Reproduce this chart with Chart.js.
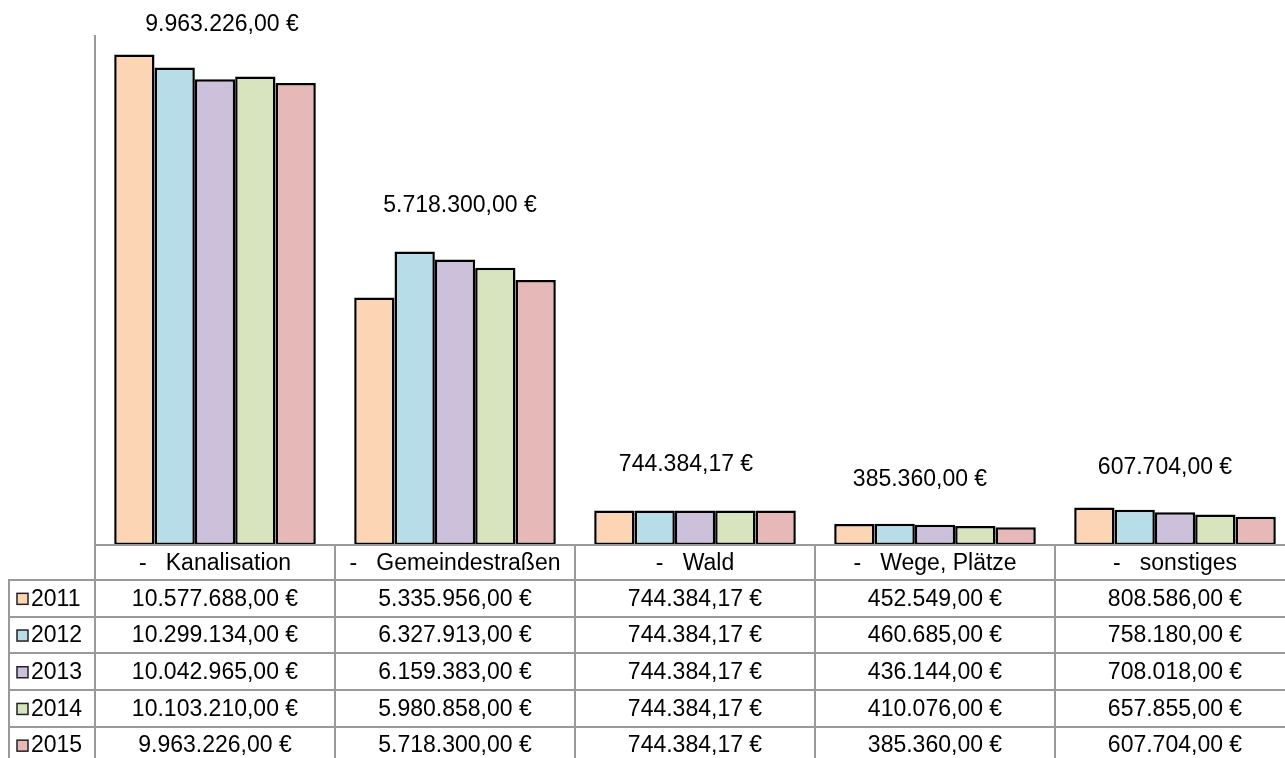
<!DOCTYPE html>
<html>
<head>
<meta charset="utf-8">
<title>Anlagevermögen</title>
<script src="https://cdn.jsdelivr.net/npm/chart.js@4"></script>
<style>
  html, body { margin: 0; padding: 0; background: #fff; overflow: hidden; }
  #wrap { width: 1285px; height: 758px; overflow: hidden; }
</style>
</head>
<body>
<div id="wrap"><canvas id="chart" width="1295" height="758"></canvas></div>
<script>
const categories = ['-   Kanalisation', '-   Gemeindestraßen', '-   Wald', '-   Wege, Plätze', '-   sonstiges'];
const years = ['2011', '2012', '2013', '2014', '2015'];

const values2011 = [10577688.00, 5335956.00, 744384.17, 452549.00, 808586.00];
const values2012 = [10299134.00, 6327913.00, 744384.17, 460685.00, 758180.00];
const values2013 = [10042965.00, 6159383.00, 744384.17, 436144.00, 708018.00];
const values2014 = [10103210.00, 5980858.00, 744384.17, 410076.00, 657855.00];
const values2015 = [9963226.00, 5718300.00, 744384.17, 385360.00, 607704.00];

const seriesValues = [values2011, values2012, values2013, values2014, values2015];
const seriesColors = ['#FCD5B5', '#B7DEE8', '#CCC0DA', '#D7E4BD', '#E6B9B8'];

// where the 2015 value labels sit: [dx from group centre, px above the 2015 bar]
const labelShift = [[7, 58], [5, 74], [-9, 46], [-15, 47], [-10, 49]];

const FONT = '23px "Liberation Sans", Arial, sans-serif';
const LINE = '#999';
const HEAD_H = 35;
const ROW_H = 36.7;

function euro(v) {
  const parts = v.toFixed(2).split('.');
  const int = parts[0].replace(/\B(?=(\d{3})+(?!\d))/g, '.');
  return int + ',' + parts[1] + ' €';
}

function line(ctx, x1, y1, x2, y2) {
  ctx.beginPath();
  ctx.moveTo(x1, y1);
  ctx.lineTo(x2, y2);
  ctx.stroke();
}

// labels over the groups + the data table under the bars
const tablePlugin = {
  id: 'dataTable',
  afterDatasetsDraw(chart) {
    const { ctx, chartArea, scales: { x, y } } = chart;
    const colW = (chartArea.right - chartArea.left) / categories.length;
    const top = chartArea.bottom;
    const bottom = chart.height;
    ctx.save();
    ctx.font = FONT;
    ctx.fillStyle = '#000';
    ctx.textAlign = 'center';
    ctx.textBaseline = 'middle';

    values2015.forEach((v, i) => {
      ctx.fillText(euro(v), x.getPixelForValue(i) + labelShift[i][0], y.getPixelForValue(v) - labelShift[i][1]);
    });

    ctx.strokeStyle = LINE;
    ctx.lineWidth = 2;
    // axis line, runs through the table
    line(ctx, chartArea.left, chartArea.top, chartArea.left, bottom);
    line(ctx, chartArea.left, top, chartArea.right, top);
    const rowsTop = top + HEAD_H;
    for (let r = 0; r <= years.length; r++) {
      const yy = Math.round(rowsTop + r * ROW_H);
      line(ctx, 8, yy, chartArea.right, yy);
    }
    line(ctx, 9, rowsTop, 9, bottom);
    for (let c = 1; c <= categories.length; c++) {
      const xx = chartArea.left + c * colW;
      line(ctx, xx, top, xx, bottom);
    }

    // header row
    categories.forEach((c, i) => {
      ctx.fillText(c, x.getPixelForValue(i), top + HEAD_H / 2 + 1);
    });

    // one row per year
    years.forEach((yr, r) => {
      const cy = rowsTop + r * ROW_H + ROW_H / 2 + 1;
      ctx.fillStyle = seriesColors[r];
      ctx.fillRect(17, cy - 6, 11, 11);
      ctx.strokeStyle = '#222';
      ctx.lineWidth = 1.5;
      ctx.strokeRect(17, cy - 6, 11, 11);
      ctx.fillStyle = '#000';
      ctx.textAlign = 'left';
      ctx.fillText(yr, 31, cy);
      ctx.textAlign = 'center';
      seriesValues[r].forEach((v, i) => {
        ctx.fillText(euro(v), x.getPixelForValue(i), cy);
      });
    });
    ctx.restore();
  }
};

new Chart(document.getElementById('chart'), {
  type: 'bar',
  data: {
    labels: categories,
    datasets: years.map((yr, i) => ({
      label: yr,
      data: seriesValues[i],
      backgroundColor: seriesColors[i],
      borderColor: '#000',
      borderWidth: 2.5,
      borderSkipped: false,
      categoryPercentage: 0.84,
      barPercentage: 1
    }))
  },
  options: {
    responsive: false,
    animation: false,
    layout: { padding: { left: 95, top: 35, right: 0, bottom: 213 } },
    plugins: { legend: { display: false }, tooltip: { enabled: false } },
    scales: {
      x: { display: false },
      y: { display: false, min: 0, max: 11000000 }
    }
  },
  plugins: [tablePlugin]
});
</script>
</body>
</html>
